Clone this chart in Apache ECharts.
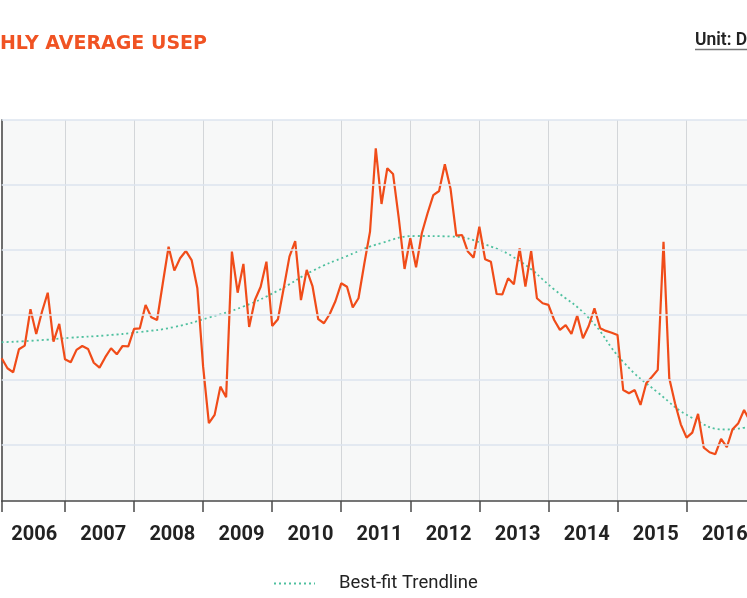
<!DOCTYPE html>
<html>
<head>
<meta charset="utf-8">
<script src="https://cdn.jsdelivr.net/npm/echarts@6/dist/echarts.min.js"></script>
<style>
html,body{margin:0;padding:0;background:#fff;overflow:hidden;width:747px;height:598px;}
#chart{position:absolute;left:-80px;top:0;width:900px;height:598px;}
</style>
</head>
<body>
<div id="chart"></div>
<script>
// Years shown on the axis; monthly categories are built from them
const years = [2006, 2007, 2008, 2009, 2010, 2011, 2012, 2013, 2014, 2015, 2016];
const months = [];
years.forEach(function (y) {
  for (let m = 1; m <= 12; m++) months.push(y + '-' + (m < 10 ? '0' + m : m));
});

// Monthly average USEP, Jan 2006 onward
const usep = [
  133.4, 127.2, 124.7, 138.9, 141.1, 163.5, 148.3, 162.0, 173.7, 143.6, 154.5, 132.7,
  130.9, 138.5, 140.9, 139.1, 130.6, 127.6, 134.0, 139.5, 135.8, 140.9, 140.7, 151.4,
  151.8, 166.2, 158.6, 156.9, 179.7, 202.0, 187.3, 194.9, 199.4, 193.8, 176.4, 128.2,
  93.4, 98.5, 115.9, 109.4, 199.0, 173.7, 191.4, 152.6, 169.2, 177.4, 192.8, 153.2,
  157.4, 176.4, 195.9, 205.5, 169.2, 187.7, 177.8, 157.4, 154.9, 160.6, 168.6, 179.5,
  177.4, 164.7, 170.3, 191.4, 211.3, 262.6, 228.3, 250.3, 246.8, 219.5, 188.3, 207.2,
  189.4, 210.3, 222.6, 233.8, 236.3, 252.7, 237.5, 208.8, 209.2, 199.0, 195.3, 214.3,
  194.3, 192.8, 172.9, 172.7, 182.6, 178.9, 201.0, 177.4, 199.4, 170.3, 167.2, 166.2,
  156.9, 150.8, 153.8, 148.3, 159.6, 145.7, 153.2, 164.1, 151.8, 150.2, 149.1, 147.7,
  113.8, 111.8, 113.8, 104.6, 118.0, 122.0, 126.2, 205.1, 121.0, 105.7, 92.7, 84.5,
  87.6, 99.1, 78.3, 75.5, 74.3, 83.7, 78.6, 89.7, 93.4, 101.5, 94.8
];

// Best-fit trendline, read at half-year points (month index, value)
const trendIndex = [0, 6, 12, 18, 24, 30, 36, 42, 48, 54, 60, 66, 72, 78, 84, 90, 96, 102, 108, 114, 120, 126, 130];
const trendValue = [143.2, 144.3, 146.0, 147.4, 149.5, 152.6, 158.4, 165.2, 175.0, 187.1, 196.3, 204.3,
  208.6, 208.3, 203.4, 193.2, 175.7, 158.2, 131.1, 112.3, 96.6, 89.5, 91.4];

// Horizontal grid levels
const gridValues = [80, 120, 160, 200, 240, 280];

const chart = echarts.init(document.getElementById('chart'), null, {renderer: 'canvas'});
const FONT = 'Roboto';

chart.setOption({
  animation: false,
  backgroundColor: '#ffffff',
  title: {
    text: 'MONTHLY AVERAGE USEP',
    left: 16,
    top: 34.5,
    padding: 0,
    textStyle: {color: '#f05323', fontSize: 19, fontWeight: 'bold', fontFamily: 'DejaVu Sans'}
  },
  graphic: [
    {
      type: 'text', left: 775, top: 32,
      style: {text: 'Unit: Dollars/MWh', fill: '#222', font: '600 17.5px Roboto'}
    },
    {
      type: 'line', shape: {x1: 775, y1: 49.5, x2: 900, y2: 49.5},
      style: {stroke: '#777', lineWidth: 1.5}
    }
  ],
  legend: {
    data: ['Best-fit Trendline'],
    left: 353,
    top: 574,
    padding: 0,
    itemWidth: 41,
    itemHeight: 20,
    itemStyle: {opacity: 0},
    textStyle: {fontSize: 18.5, color: '#222', fontFamily: FONT, padding: [0, 0, 0, 19]}
  },
  grid: {
    left: 81.7, right: 64.4, top: 120, bottom: 97,
    show: true, backgroundColor: '#f7f8f8', borderWidth: 0
  },
  xAxis: {
    type: 'category',
    data: months,
    boundaryGap: false,
    axisLine: {onZero: false, lineStyle: {color: '#4a4a4a', width: 1.5}},
    axisTick: {
      show: true,
      interval: function (idx) { return idx === 0 || idx % 12 === 11; },
      length: 11,
      lineStyle: {color: '#4a4a4a', width: 1.5}
    },
    axisLabel: {
      interval: function (idx) { return idx % 12 === 6; },
      formatter: function (v) { return v.slice(0, 4); },
      fontSize: 20, fontWeight: 'bold', color: '#222', fontFamily: FONT,
      margin: 24, padding: [0, 4, 0, 0]
    },
    splitLine: {
      show: true,
      interval: function (idx) { return idx % 12 === 11; },
      lineStyle: {color: '#d3d6d9', width: 1}
    }
  },
  yAxis: {
    type: 'value',
    min: 45.5,
    max: 280,
    axisLine: {show: true, lineStyle: {color: '#6e6e6e', width: 2}},
    axisTick: {show: false},
    axisLabel: {show: false},
    splitLine: {show: false}
  },
  series: [
    {
      name: 'Best-fit Trendline',
      type: 'line',
      data: trendIndex.map(function (d, k) { return [d, trendValue[k]]; }),
      smooth: 0.5,
      symbol: 'none',
      z: 2,
      lineStyle: {color: '#4fc09f', width: 1.8, type: [2, 3]},
      itemStyle: {color: '#4fc09f'},
      markLine: {
        silent: true,
        symbol: ['none', 'none'],
        label: {show: false},
        animation: false,
        lineStyle: {color: '#dce4ef', width: 1.5, type: 'solid'},
        data: gridValues.map(function (v) { return {yAxis: v}; })
      }
    },
    {
      name: 'Monthly Average USEP',
      type: 'line',
      data: usep,
      symbol: 'none',
      z: 3,
      lineStyle: {color: '#f04c19', width: 2.2},
      itemStyle: {color: '#f04c19'}
    }
  ]
});
</script>
</body>
</html>
